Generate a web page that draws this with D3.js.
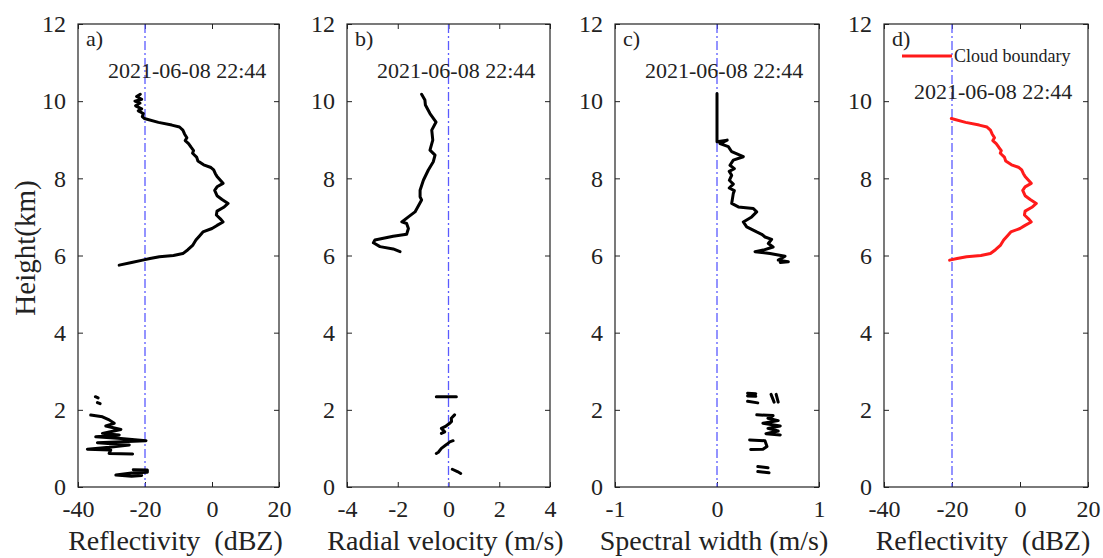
<!DOCTYPE html>
<html>
<head>
<meta charset="utf-8">
<script src="https://cdn.jsdelivr.net/npm/d3@7"></script>
<style>
  body { margin: 0; background: #fff; }
  svg { font-family: "Liberation Serif", "Times New Roman", serif; }
  .lbl { white-space: pre; fill: #222; }
</style>
</head>
<body>
<div id="chart"></div>
<script>
// DATA  (height km, value) -- null splits the profile into pieces

// a) reflectivity
const reflH = [10.18,10.12,10.05,10.00,9.95,9.88,9.80,9.75,9.68,9.60,9.55,9.45,9.38,9.33,9.25,9.15,9.05,8.98,8.90,8.80,8.72,8.65,8.55,8.45,8.35,8.28,8.22,8.12,8.05,7.95,7.87,7.78,7.69,7.55,7.45,7.35,7.25,7.15,7.05,6.95,6.87,6.78,6.70,6.61,6.50,6.40,6.27,6.15,6.05,6.00,5.97,5.92,5.88,5.82,5.75,
  null, 2.34,2.31, null, 2.19,2.16, null,
  1.865,1.82,1.74,1.65,1.58,1.49,1.42,1.39,1.35,1.30,1.26,1.20,1.15,1.09,1.03,0.98,0.96,0.87,0.855,
  null, 0.45,0.44,0.38,0.36,0.31,0.28,0.30];
const reflV = [-21.4,-22.5,-21.0,-23.0,-21.5,-22.8,-21.0,-22.0,-20.5,-20.8,-20.2,-16,-12,-9.7,-8.7,-8.2,-7.5,-8.0,-7.0,-6.2,-5.5,-5.8,-4.6,-4.2,-2.5,-0.3,0.5,1.0,1.5,2.5,3.3,1.5,0.8,1.5,3.0,4.8,3.5,1.5,1.3,2.5,3.3,1.5,0,-2.7,-3.8,-4.8,-5.7,-7.2,-8.7,-11.5,-15.7,-18.5,-20.7,-24,-27.7,
  null, -34.8,-34.0, null, -34.2,-33.4, null,
  -36.2,-32.7,-30.7,-29.2,-31.7,-27.2,-31.0,-32.7,-27.7,-34.7,-27.2,-19.7,-34.2,-24.7,-30.7,-37.2,-30.2,-30.7,-23.7,
  null, -23.5,-19.3,-19.3,-24.0,-28.7,-24.0,-21.0];

// b) radial velocity
const velH = [10.18,10.03,9.90,9.68,9.46,9.25,8.99,8.73,8.60,8.43,8.21,7.95,7.69,7.52,7.44,7.13,7.00,6.87,6.83,6.70,6.55,6.50,6.40,6.33,6.23,6.17,6.10,
  null, 2.34,2.34,
  null, 1.87,1.78,1.70,1.65,1.58,1.52,1.43,1.39,
  null, 1.20,1.17,1.10,1.00,0.90,0.87,
  null, 0.46,0.40,0.35];
const velV = [-1.06,-0.93,-0.91,-0.73,-0.49,-0.66,-0.62,-0.73,-0.53,-0.60,-0.80,-0.99,-1.12,-1.12,-1.06,-1.32,-1.58,-1.84,-1.65,-1.58,-1.65,-2.18,-2.90,-2.96,-2.70,-2.18,-1.91,
  null, -0.48,0.31,
  null, 0.24,0.11,0.12,0.05,-0.10,-0.28,-0.15,-0.28,
  null, 0.18,0.05,-0.08,-0.28,-0.40,-0.48,
  null, 0.15,0.35,0.48];

// c) spectral width
const widthH = [10.20,8.95,8.99,8.90,8.82,8.69,8.56,8.47,8.34,8.25,8.18,8.08,7.95,7.85,7.75,7.68,7.61,7.35,7.26,7.22,7.13,7.00,6.87,6.74,6.61,6.55,6.48,6.42,6.31,6.22,6.14,6.10,6.05,5.98,5.88,5.84,5.82,
  null, 2.43,2.42, null, 2.36,2.35, null, 2.22,2.18,
  null, 2.40,2.20, null, 2.40,2.20,
  null, 1.87,1.85,1.78,1.72,1.65,1.58,1.52,1.45,1.38,1.35,
  null, 1.22,1.20,1.05,0.98,0.97,
  null, 0.53,0.50, null, 0.40,0.37];
const widthV = [0.0,0.0,0.10,0.03,0.111,0.144,0.258,0.160,0.127,0.17,0.12,0.144,0.121,0.16,0.12,0.17,0.160,0.144,0.209,0.356,0.389,0.340,0.258,0.291,0.389,0.438,0.471,0.536,0.503,0.55,0.454,0.373,0.520,0.667,0.601,0.699,0.62,
  null, 0.30,0.38, null, 0.30,0.38, null, 0.30,0.40,
  null, 0.53,0.56, null, 0.58,0.60,
  null, 0.39,0.55,0.50,0.60,0.45,0.62,0.50,0.60,0.48,0.62,
  null, 0.32,0.47,0.49,0.45,0.33,
  null, 0.40,0.50, null, 0.40,0.51];

const heightTicks = [0, 2, 4, 6, 8, 10, 12];
const stamp = "2021-06-08 22:44";

// d) cloud boundary: the part of the reflectivity profile inside the cloud
const cloudTop = 9.56, cloudBase = 5.86;

const panels = [
  { tag: "a)", h: reflH, v: reflV, domain: [-40, 20], ticks: [-40, -20, 0, 20], ref: -20,
    label: "Reflectivity  (dBZ)", x0: 78, x1: 279, stampY: 78 },
  { tag: "b)", h: velH, v: velV, domain: [-4, 4], ticks: [-4, -2, 0, 2, 4], ref: 0,
    label: "Radial velocity (m/s)", x0: 347, x1: 550, stampY: 78 },
  { tag: "c)", h: widthH, v: widthV, domain: [-1, 1], ticks: [-1, 0, 1], ref: 0,
    label: "Spectral width (m/s)", x0: 615, x1: 819, stampY: 78 },
  { tag: "d)", h: reflH, v: reflV, domain: [-40, 20], ticks: [-40, -20, 0, 20], ref: -20,
    label: "Reflectivity  (dBZ)", x0: 884, x1: 1088, stampY: 99, cloud: true }
];

const W = 1103, H = 558;
const plotTop = 24, plotBottom = 487;
const serif = '"Liberation Serif", "Times New Roman", serif';

const svg = d3.select("#chart").append("svg")
  .attr("width", W).attr("height", H);

const yScale = d3.scaleLinear().domain([0, 12]).range([plotBottom, plotTop]);

svg.append("text")
  .attr("class", "lbl")
  .attr("transform", `translate(35, 248) rotate(-90)`)
  .attr("text-anchor", "middle")
  .style("font-size", "29px")
  .text("Height(km)");

panels.forEach(p => {
  const xScale = d3.scaleLinear().domain(p.domain).range([p.x0, p.x1]);
  const g = svg.append("g");

  // data pairs, nulls kept as gaps
  let pts = p.h.map((h, i) => ({ h: h, v: p.v[i] }));
  if (p.cloud) {
    pts = pts.filter(d => d.h != null && d.h <= cloudTop && d.h >= cloudBase);
  }

  // axes, ticks pointing inward
  const xAxisB = d3.axisBottom(xScale).tickValues(p.ticks).tickSize(-5).tickPadding(13).tickFormat(d3.format("d"));
  const xAxisT = d3.axisTop(xScale).tickValues(p.ticks).tickSize(-5).tickFormat("");
  const yAxisL = d3.axisLeft(yScale).tickValues(heightTicks).tickSize(-5).tickPadding(12);
  const yAxisR = d3.axisRight(yScale).tickValues(heightTicks).tickSize(-5).tickFormat("");

  g.append("g").attr("transform", `translate(0,${plotBottom})`).call(xAxisB);
  g.append("g").attr("transform", `translate(0,${plotTop})`).call(xAxisT);
  g.append("g").attr("transform", `translate(${p.x0},0)`).call(yAxisL);
  g.append("g").attr("transform", `translate(${p.x1},0)`).call(yAxisR);
  g.selectAll(".domain").remove();
  g.selectAll(".tick line").attr("stroke", "#222").attr("stroke-width", 1);
  g.selectAll(".tick text")
    .attr("font-family", serif)
    .style("font-family", serif)
    .style("font-size", "24px")
    .attr("fill", "#222")
    .text(function() { return this.textContent.replace("\u2212", "-"); });

  // reference line
  g.append("line")
    .attr("x1", xScale(p.ref)).attr("x2", xScale(p.ref))
    .attr("y1", plotTop).attr("y2", plotBottom)
    .attr("stroke", "#5a5aff")
    .attr("stroke-width", 1.3)
    .attr("stroke-dasharray", "9,3,2,3");

  const line = d3.line()
    .defined(d => d.h != null && d.v != null)
    .x(d => xScale(d.v))
    .y(d => yScale(d.h));

  g.append("path")
    .attr("d", line(pts))
    .attr("fill", "none")
    .attr("stroke", p.cloud ? "#ff1a1a" : "#000")
    .attr("stroke-width", 3)
    .attr("stroke-linejoin", "round")
    .attr("stroke-linecap", "round");

  // box
  g.append("rect")
    .attr("x", p.x0).attr("y", plotTop)
    .attr("width", p.x1 - p.x0).attr("height", plotBottom - plotTop)
    .attr("fill", "none").attr("stroke", "#222").attr("stroke-width", 1.2);

  g.append("text")
    .attr("class", "lbl")
    .attr("x", p.x0 + 8).attr("y", 46)
    .style("font-size", "22px")
    .text(p.tag);

  g.append("text")
    .attr("class", "lbl")
    .attr("x", p.x0 + 30).attr("y", p.stampY)
    .style("font-size", "22px")
    .text(stamp);

  g.append("text")
    .attr("class", "lbl")
    .attr("x", (p.x0 + p.x1) / 2 - 3).attr("y", 550)
    .attr("text-anchor", "middle")
    .style("font-size", "28px")
    .text(p.label);

  if (p.cloud) {
    g.append("line")
      .attr("x1", p.x0 + 18).attr("x2", p.x0 + 68)
      .attr("y1", 56).attr("y2", 56)
      .attr("stroke", "#ff1a1a").attr("stroke-width", 3);
    g.append("text")
      .attr("class", "lbl")
      .attr("x", p.x0 + 70).attr("y", 62)
      .style("font-size", "18px")
      .text("Cloud boundary");
  }
});
</script>
</body>
</html>
